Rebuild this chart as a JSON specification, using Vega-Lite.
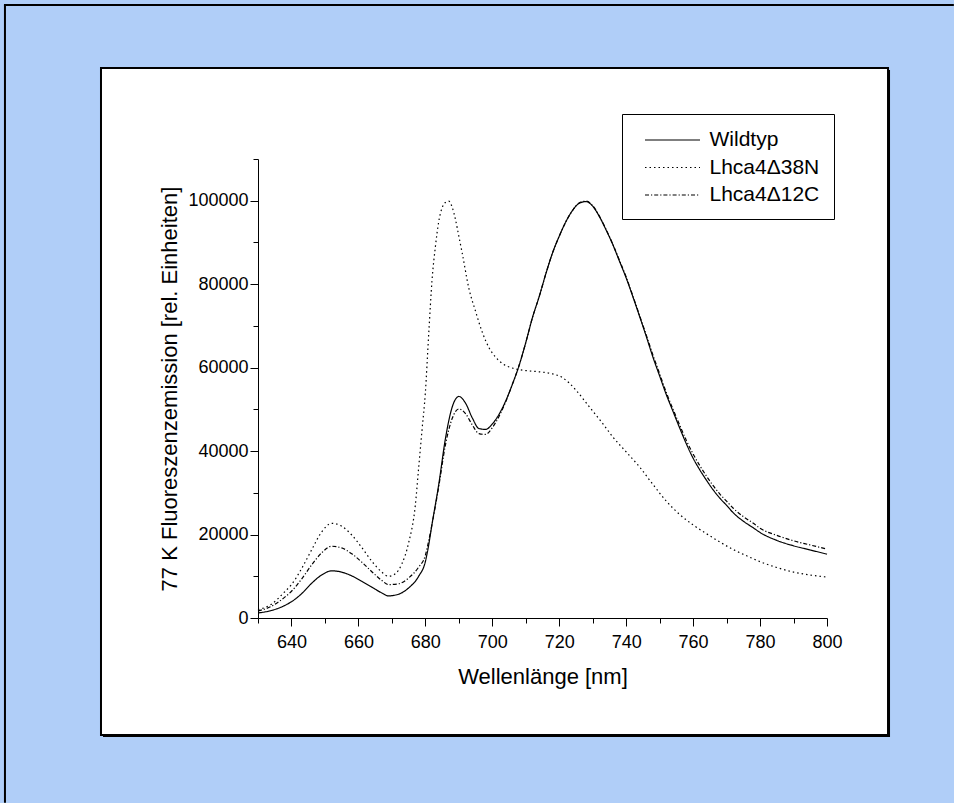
{
  "$schema": "https://vega.github.io/schema/vega-lite/v6.json",
  "width": 569,
  "height": 459,
  "autosize": {"type": "none"},
  "padding": {"left": 258, "top": 159, "right": 127, "bottom": 185},
  "background": "#B0CEF8",
  "resolve": {"axis": {"x": "independent"}},
  "config": {
    "view": {"stroke": null},
    "font": "Liberation Sans",
    "axis": {
      "grid": false,
      "domainColor": "black",
      "domainWidth": 1,
      "tickColor": "black",
      "tickWidth": 1,
      "labelColor": "black",
      "titleColor": "black",
      "labelFont": "Liberation Sans",
      "titleFont": "Liberation Sans",
      "labelFontSize": 18,
      "titleFontSize": 22,
      "titleFontWeight": "normal",
      "labelOverlap": false,
      "labelFlush": false,
      "labelBound": false
    }
  },
  "layer": [
    {
      "data": {"values": [{}]},
      "mark": {"type": "rule", "color": "black", "strokeWidth": 2},
      "encoding": {
        "x": {"datum": 554.4, "type": "quantitative", "scale": {"domain": [630, 800], "nice": false, "zero": false}, "axis": null},
        "y": {"datum": 147100, "type": "quantitative", "scale": {"domain": [0, 110000], "nice": false, "zero": false}},
        "y2": {"datum": -44300}
      }
    },
    {
      "data": {"values": [{}]},
      "mark": {"type": "rule", "color": "black", "strokeWidth": 2},
      "encoding": {
        "x": {"datum": 554.1, "type": "quantitative", "scale": {"domain": [630, 800], "nice": false, "zero": false}, "axis": null},
        "x2": {"datum": 837.9},
        "y": {"datum": 146900, "type": "quantitative", "scale": {"domain": [0, 110000], "nice": false, "zero": false}}
      }
    },
    {
      "data": {"values": [{}]},
      "mark": {"type": "rect", "fill": "black", "stroke": null},
      "encoding": {
        "x": {"datum": 583.69, "type": "quantitative", "scale": {"domain": [630, 800], "nice": false, "zero": false}, "axis": null},
        "x2": {"datum": 818.83},
        "y": {"datum": 131330, "type": "quantitative", "scale": {"domain": [0, 110000], "nice": false, "zero": false}},
        "y2": {"datum": -28520}
      }
    },
    {
      "data": {"values": [{}]},
      "mark": {"type": "rect", "fill": "white", "stroke": "black", "strokeWidth": 2},
      "encoding": {
        "x": {
          "datum": 583.09, "type": "quantitative",
          "scale": {"domain": [630, 800], "nice": false, "zero": false},
          "axis": {"orient": "bottom", "title": null, "labels": false, "domain": false, "zindex": 2, "values": [630, 650, 670, 690, 710, 730, 750, 770, 790], "tickSize": 5}
        },
        "x2": {"datum": 818.23},
        "y": {"datum": 131810, "type": "quantitative", "scale": {"domain": [0, 110000], "nice": false, "zero": false}},
        "y2": {"datum": -28040}
      }
    },
    {
      "data": {
        "values": [
          {"x":630,"y":1200,"s":"Wildtyp"},{"x":634,"y":1800,"s":"Wildtyp"},{"x":638,"y":3000,"s":"Wildtyp"},{"x":640,"y":3900,"s":"Wildtyp"},{"x":643,"y":5800,"s":"Wildtyp"},{"x":646,"y":8300,"s":"Wildtyp"},{"x":649,"y":10300,"s":"Wildtyp"},{"x":652,"y":11300,"s":"Wildtyp"},{"x":655,"y":11000,"s":"Wildtyp"},{"x":658,"y":10100,"s":"Wildtyp"},{"x":661,"y":8800,"s":"Wildtyp"},{"x":664,"y":7400,"s":"Wildtyp"},{"x":667,"y":6000,"s":"Wildtyp"},{"x":669,"y":5300,"s":"Wildtyp"},{"x":672,"y":5700,"s":"Wildtyp"},{"x":675,"y":7200,"s":"Wildtyp"},{"x":678,"y":10000,"s":"Wildtyp"},{"x":680,"y":13500,"s":"Wildtyp"},{"x":681,"y":17500,"s":"Wildtyp"},{"x":682,"y":22500,"s":"Wildtyp"},{"x":684,"y":32000,"s":"Wildtyp"},{"x":686,"y":43000,"s":"Wildtyp"},{"x":688,"y":50500,"s":"Wildtyp"},{"x":690,"y":53100,"s":"Wildtyp"},{"x":692,"y":51500,"s":"Wildtyp"},{"x":694,"y":48000,"s":"Wildtyp"},{"x":696,"y":45400,"s":"Wildtyp"},{"x":698,"y":45200,"s":"Wildtyp"},{"x":700,"y":46500,"s":"Wildtyp"},{"x":702,"y":48800,"s":"Wildtyp"},{"x":704,"y":52000,"s":"Wildtyp"},{"x":706,"y":56000,"s":"Wildtyp"},{"x":708,"y":60500,"s":"Wildtyp"},{"x":710,"y":66000,"s":"Wildtyp"},{"x":712,"y":72000,"s":"Wildtyp"},{"x":714,"y":77000,"s":"Wildtyp"},{"x":716,"y":82500,"s":"Wildtyp"},{"x":718,"y":87500,"s":"Wildtyp"},{"x":720,"y":91500,"s":"Wildtyp"},{"x":722,"y":95000,"s":"Wildtyp"},{"x":724,"y":97700,"s":"Wildtyp"},{"x":726,"y":99400,"s":"Wildtyp"},{"x":728,"y":99800,"s":"Wildtyp"},{"x":730,"y":98700,"s":"Wildtyp"},{"x":732,"y":96200,"s":"Wildtyp"},{"x":734,"y":93000,"s":"Wildtyp"},{"x":736,"y":89500,"s":"Wildtyp"},{"x":738,"y":85500,"s":"Wildtyp"},{"x":740,"y":81500,"s":"Wildtyp"},{"x":742,"y":77000,"s":"Wildtyp"},{"x":744,"y":72300,"s":"Wildtyp"},{"x":746,"y":67500,"s":"Wildtyp"},{"x":748,"y":62500,"s":"Wildtyp"},{"x":750,"y":58000,"s":"Wildtyp"},{"x":752,"y":53500,"s":"Wildtyp"},{"x":754,"y":49500,"s":"Wildtyp"},{"x":756,"y":45500,"s":"Wildtyp"},{"x":758,"y":41700,"s":"Wildtyp"},{"x":760,"y":38300,"s":"Wildtyp"},{"x":762,"y":35500,"s":"Wildtyp"},{"x":764,"y":33000,"s":"Wildtyp"},{"x":766,"y":30700,"s":"Wildtyp"},{"x":768,"y":28700,"s":"Wildtyp"},{"x":770,"y":27000,"s":"Wildtyp"},{"x":772,"y":25200,"s":"Wildtyp"},{"x":775,"y":23200,"s":"Wildtyp"},{"x":778,"y":21600,"s":"Wildtyp"},{"x":780,"y":20500,"s":"Wildtyp"},{"x":785,"y":18600,"s":"Wildtyp"},{"x":790,"y":17300,"s":"Wildtyp"},{"x":795,"y":16300,"s":"Wildtyp"},{"x":800,"y":15300,"s":"Wildtyp"},
          {"x":630,"y":2000,"s":"Lhca4Δ38N"},{"x":634,"y":3300,"s":"Lhca4Δ38N"},{"x":638,"y":6300,"s":"Lhca4Δ38N"},{"x":640,"y":8000,"s":"Lhca4Δ38N"},{"x":643,"y":11800,"s":"Lhca4Δ38N"},{"x":646,"y":16300,"s":"Lhca4Δ38N"},{"x":649,"y":20600,"s":"Lhca4Δ38N"},{"x":652,"y":22700,"s":"Lhca4Δ38N"},{"x":655,"y":22000,"s":"Lhca4Δ38N"},{"x":658,"y":19900,"s":"Lhca4Δ38N"},{"x":661,"y":16900,"s":"Lhca4Δ38N"},{"x":664,"y":13600,"s":"Lhca4Δ38N"},{"x":667,"y":11000,"s":"Lhca4Δ38N"},{"x":669,"y":10000,"s":"Lhca4Δ38N"},{"x":671,"y":10600,"s":"Lhca4Δ38N"},{"x":673,"y":13000,"s":"Lhca4Δ38N"},{"x":675,"y":18000,"s":"Lhca4Δ38N"},{"x":677,"y":27000,"s":"Lhca4Δ38N"},{"x":678,"y":36000,"s":"Lhca4Δ38N"},{"x":679,"y":45000,"s":"Lhca4Δ38N"},{"x":680,"y":54000,"s":"Lhca4Δ38N"},{"x":681,"y":68000,"s":"Lhca4Δ38N"},{"x":682,"y":81000,"s":"Lhca4Δ38N"},{"x":683,"y":89000,"s":"Lhca4Δ38N"},{"x":684,"y":95000,"s":"Lhca4Δ38N"},{"x":685,"y":98300,"s":"Lhca4Δ38N"},{"x":686,"y":99600,"s":"Lhca4Δ38N"},{"x":687,"y":99900,"s":"Lhca4Δ38N"},{"x":688,"y":98500,"s":"Lhca4Δ38N"},{"x":689,"y":95500,"s":"Lhca4Δ38N"},{"x":690,"y":91500,"s":"Lhca4Δ38N"},{"x":691,"y":87500,"s":"Lhca4Δ38N"},{"x":693,"y":79000,"s":"Lhca4Δ38N"},{"x":695,"y":73500,"s":"Lhca4Δ38N"},{"x":697,"y":68500,"s":"Lhca4Δ38N"},{"x":699,"y":64800,"s":"Lhca4Δ38N"},{"x":701,"y":62500,"s":"Lhca4Δ38N"},{"x":703,"y":61000,"s":"Lhca4Δ38N"},{"x":706,"y":59900,"s":"Lhca4Δ38N"},{"x":710,"y":59300,"s":"Lhca4Δ38N"},{"x":714,"y":59000,"s":"Lhca4Δ38N"},{"x":718,"y":58500,"s":"Lhca4Δ38N"},{"x":721,"y":57600,"s":"Lhca4Δ38N"},{"x":723,"y":56300,"s":"Lhca4Δ38N"},{"x":725,"y":54600,"s":"Lhca4Δ38N"},{"x":729,"y":50600,"s":"Lhca4Δ38N"},{"x":733,"y":46600,"s":"Lhca4Δ38N"},{"x":736,"y":43400,"s":"Lhca4Δ38N"},{"x":740,"y":39800,"s":"Lhca4Δ38N"},{"x":744,"y":36200,"s":"Lhca4Δ38N"},{"x":748,"y":32000,"s":"Lhca4Δ38N"},{"x":752,"y":28000,"s":"Lhca4Δ38N"},{"x":756,"y":24800,"s":"Lhca4Δ38N"},{"x":760,"y":22300,"s":"Lhca4Δ38N"},{"x":764,"y":20200,"s":"Lhca4Δ38N"},{"x":768,"y":18200,"s":"Lhca4Δ38N"},{"x":772,"y":16400,"s":"Lhca4Δ38N"},{"x":776,"y":14900,"s":"Lhca4Δ38N"},{"x":780,"y":13500,"s":"Lhca4Δ38N"},{"x":785,"y":12100,"s":"Lhca4Δ38N"},{"x":790,"y":11000,"s":"Lhca4Δ38N"},{"x":795,"y":10300,"s":"Lhca4Δ38N"},{"x":800,"y":9800,"s":"Lhca4Δ38N"},
          {"x":630,"y":1700,"s":"Lhca4Δ12C"},{"x":634,"y":2800,"s":"Lhca4Δ12C"},{"x":638,"y":5000,"s":"Lhca4Δ12C"},{"x":640,"y":6400,"s":"Lhca4Δ12C"},{"x":643,"y":9300,"s":"Lhca4Δ12C"},{"x":646,"y":12700,"s":"Lhca4Δ12C"},{"x":649,"y":15600,"s":"Lhca4Δ12C"},{"x":652,"y":17200,"s":"Lhca4Δ12C"},{"x":655,"y":16800,"s":"Lhca4Δ12C"},{"x":658,"y":15400,"s":"Lhca4Δ12C"},{"x":661,"y":13400,"s":"Lhca4Δ12C"},{"x":664,"y":11100,"s":"Lhca4Δ12C"},{"x":667,"y":9000,"s":"Lhca4Δ12C"},{"x":669,"y":8000,"s":"Lhca4Δ12C"},{"x":672,"y":8200,"s":"Lhca4Δ12C"},{"x":675,"y":9600,"s":"Lhca4Δ12C"},{"x":678,"y":12200,"s":"Lhca4Δ12C"},{"x":680,"y":15000,"s":"Lhca4Δ12C"},{"x":681,"y":18500,"s":"Lhca4Δ12C"},{"x":682,"y":22500,"s":"Lhca4Δ12C"},{"x":684,"y":31500,"s":"Lhca4Δ12C"},{"x":686,"y":41500,"s":"Lhca4Δ12C"},{"x":688,"y":47800,"s":"Lhca4Δ12C"},{"x":690,"y":50100,"s":"Lhca4Δ12C"},{"x":692,"y":49000,"s":"Lhca4Δ12C"},{"x":694,"y":46300,"s":"Lhca4Δ12C"},{"x":696,"y":44200,"s":"Lhca4Δ12C"},{"x":698,"y":44000,"s":"Lhca4Δ12C"},{"x":700,"y":45600,"s":"Lhca4Δ12C"},{"x":702,"y":48300,"s":"Lhca4Δ12C"},{"x":704,"y":51800,"s":"Lhca4Δ12C"},{"x":706,"y":56000,"s":"Lhca4Δ12C"},{"x":708,"y":60500,"s":"Lhca4Δ12C"},{"x":710,"y":66000,"s":"Lhca4Δ12C"},{"x":712,"y":72000,"s":"Lhca4Δ12C"},{"x":714,"y":77000,"s":"Lhca4Δ12C"},{"x":716,"y":82500,"s":"Lhca4Δ12C"},{"x":718,"y":87500,"s":"Lhca4Δ12C"},{"x":720,"y":91500,"s":"Lhca4Δ12C"},{"x":722,"y":95000,"s":"Lhca4Δ12C"},{"x":724,"y":97700,"s":"Lhca4Δ12C"},{"x":726,"y":99500,"s":"Lhca4Δ12C"},{"x":728,"y":99900,"s":"Lhca4Δ12C"},{"x":730,"y":98800,"s":"Lhca4Δ12C"},{"x":732,"y":96300,"s":"Lhca4Δ12C"},{"x":734,"y":93100,"s":"Lhca4Δ12C"},{"x":736,"y":89600,"s":"Lhca4Δ12C"},{"x":738,"y":85700,"s":"Lhca4Δ12C"},{"x":740,"y":81700,"s":"Lhca4Δ12C"},{"x":742,"y":77200,"s":"Lhca4Δ12C"},{"x":744,"y":72500,"s":"Lhca4Δ12C"},{"x":746,"y":67800,"s":"Lhca4Δ12C"},{"x":748,"y":63000,"s":"Lhca4Δ12C"},{"x":750,"y":58500,"s":"Lhca4Δ12C"},{"x":752,"y":54000,"s":"Lhca4Δ12C"},{"x":754,"y":50000,"s":"Lhca4Δ12C"},{"x":756,"y":46200,"s":"Lhca4Δ12C"},{"x":758,"y":42500,"s":"Lhca4Δ12C"},{"x":760,"y":39300,"s":"Lhca4Δ12C"},{"x":762,"y":36500,"s":"Lhca4Δ12C"},{"x":764,"y":34000,"s":"Lhca4Δ12C"},{"x":766,"y":31700,"s":"Lhca4Δ12C"},{"x":768,"y":29700,"s":"Lhca4Δ12C"},{"x":770,"y":28000,"s":"Lhca4Δ12C"},{"x":772,"y":26300,"s":"Lhca4Δ12C"},{"x":775,"y":24300,"s":"Lhca4Δ12C"},{"x":778,"y":22700,"s":"Lhca4Δ12C"},{"x":780,"y":21500,"s":"Lhca4Δ12C"},{"x":785,"y":19800,"s":"Lhca4Δ12C"},{"x":790,"y":18500,"s":"Lhca4Δ12C"},{"x":795,"y":17500,"s":"Lhca4Δ12C"},{"x":800,"y":16500,"s":"Lhca4Δ12C"}
        ]
      },
      "mark": {"type": "line", "color": "black", "strokeWidth": 1.2, "interpolate": "monotone"},
      "encoding": {
        "x": {
          "field": "x",
          "type": "quantitative",
          "scale": {"domain": [630, 800], "nice": false, "zero": false},
          "axis": {
            "orient": "bottom",
            "title": "Wellenlänge [nm]",
            "zindex": 3,
            "values": [640, 660, 680, 700, 720, 740, 760, 780, 800],
            "tickSize": 8,
            "labelPadding": 7,
            "titlePadding": 15
          }
        },
        "y": {
          "field": "y",
          "type": "quantitative",
          "scale": {"domain": [0, 110000], "nice": false, "zero": false},
          "axis": {
            "title": "77 K Fluoreszenzemission [rel. Einheiten]",
            "zindex": 2,
            "format": "d",
            "values": [0, 10000, 20000, 30000, 40000, 50000, 60000, 70000, 80000, 90000, 100000, 110000],
            "labelExpr": "datum.value % 20000 === 0 ? datum.label : ''",
            "tickSize": {"condition": {"test": "datum.value % 20000 === 0", "value": 8}, "value": 5},
            "labelPadding": 2,
            "titlePadding": 6
          }
        },
        "strokeDash": {
          "field": "s",
          "type": "nominal",
          "scale": {
            "domain": ["Wildtyp", "Lhca4Δ38N", "Lhca4Δ12C"],
            "range": [[1, 0], [1.5, 3], [4, 2, 1.2, 2]]
          },
          "legend": {
            "title": null,
            "orient": "none",
            "legendX": 364,
            "legendY": -45,
            "fillColor": "white",
            "strokeColor": "black",
            "padding": 14,
            "rowPadding": 5.5,
            "symbolType": "M-2.5,0H2.5",
            "symbolSize": 484,
            "symbolStrokeWidth": 1.2,
            "symbolStrokeColor": "black",
            "symbolOffset": 24.5,
            "labelOffset": 25,
            "labelFont": "Liberation Sans",
            "labelFontSize": 21,
            "labelColor": "black",
            "labelLimit": 300
          }
        }
      }
    }
  ]
}
